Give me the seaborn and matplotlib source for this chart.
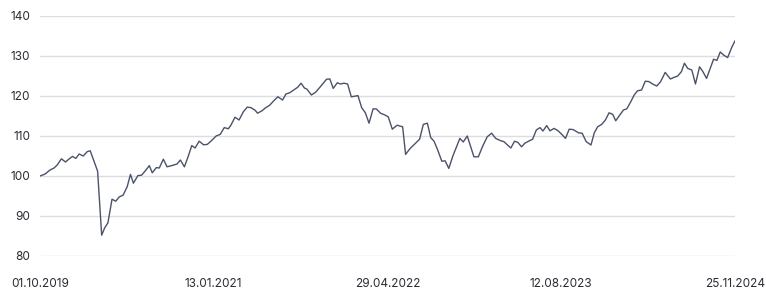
import matplotlib
matplotlib.use("Agg")
import matplotlib.pyplot as plt
import matplotlib.dates as mdates
import numpy as np
import pandas as pd
import seaborn as sns

start_date = "2019-10-01"
days_since_start = [
    0, 14, 27, 38, 47, 58, 69, 78, 88, 97, 106, 117, 128, 136, 156, 167, 175, 184,
    195, 205, 215, 225, 236, 245, 253, 265, 275, 287, 296, 304, 315, 323, 334, 344,
    357, 371, 380, 391, 401, 411, 420, 431, 443, 453, 464, 477, 488, 499, 510, 517,
    528, 539, 551, 561, 571, 583, 589, 601, 610, 622, 633, 644, 657, 666, 676, 687,
    698, 707, 716, 723, 735, 747, 759, 776, 785, 794, 805, 814, 823, 833, 843, 861,
    871, 881, 891, 902, 911, 922, 934, 943, 954, 967, 982, 990, 1001, 1017, 1028,
    1038, 1049, 1058, 1067, 1077, 1088, 1097, 1107, 1118, 1128, 1137, 1146, 1157,
    1175, 1187, 1198, 1211, 1223, 1234, 1248, 1256, 1266, 1275, 1285, 1294, 1304,
    1313, 1324, 1334, 1344, 1354, 1362, 1372, 1381, 1392, 1403, 1413, 1423, 1433,
    1444, 1458, 1468, 1479, 1492, 1501, 1510, 1521, 1531, 1541, 1551, 1559, 1570,
    1580, 1589, 1600, 1609, 1618, 1629, 1639, 1649, 1659, 1670, 1680, 1693, 1707,
    1718, 1727, 1737, 1745, 1754, 1765, 1775, 1786, 1795, 1805, 1824, 1833, 1842,
    1851, 1862, 1873, 1882,
]
index_values = [
    100, 100.5, 101.5, 102, 102.8, 104.3, 103.5, 104.2, 104.9, 104.4, 105.5, 105,
    106.1, 106.3, 101.2, 85.2, 87, 88.3, 94.2, 93.7, 94.8, 95.2, 97.3, 100.4, 98.2,
    100.1, 100.2, 101.5, 102.6, 100.8, 102.1, 102, 104.2, 102.3, 102.6, 103, 104,
    102.3, 104.8, 107.6, 107, 108.7, 107.8, 107.9, 108.8, 110, 110.4, 112.1, 111.8,
    112.7, 114.7, 114, 116.1, 117.2, 117.1, 116.4, 115.7, 116.3, 117, 117.7, 118.8,
    119.8, 119, 120.5, 120.8, 121.5, 122.2, 123.2, 122, 121.7, 120.25, 121, 122.3,
    124.2, 124.25, 121.9, 123.3, 123, 123.2, 123, 119.8, 120.1, 117.1, 115.8, 113.2,
    116.8, 116.75, 115.7, 115.25, 114.8, 111.7, 112.7, 112.3, 105.4, 106.75, 108.2,
    109.2, 112.9, 113.2, 109.6, 108.7, 106.5, 103.7, 103.8, 101.9, 105, 107.3, 109.4,
    108.5, 110, 104.8, 104.8, 107.3, 109.8, 110.7, 109.4, 108.8, 108.6, 107.75, 107,
    108.7, 108.4, 107.3, 108.2, 108.75, 109.2, 111.5, 112.1, 111.25, 112.6, 111.3,
    111.9, 111.3, 110.4, 109.4, 111.7, 111.6, 110.8, 110.7, 108.6, 107.75, 110.8,
    112.3, 112.9, 114, 115.8, 115.4, 113.8, 115.25, 116.5, 116.8, 118.6, 120.25,
    121.3, 121.5, 123.7, 123.6, 123, 122.5, 123.5, 125.9, 124.25, 124.7, 125, 126.1,
    128.2, 126.9, 126.5, 123, 127.3, 126.1, 124.4, 129.2, 128.9, 131, 130.25, 129.6,
    132.1, 133.8,
]
x_tick_labels = ["01.10.2019", "13.01.2021", "29.04.2022", "12.08.2023", "25.11.2024"]
y_ticks = [80, 90, 100, 110, 120, 130, 140]

dates = pd.to_datetime(start_date) + pd.to_timedelta(days_since_start, unit="D")
df = pd.DataFrame({"date": dates, "value": index_values})

sns.set_style("white")
plt.rcParams["font.family"] = ["Inter", "DejaVu Sans"]

fig = plt.figure(figsize=(7.66, 2.89), dpi=100)
ax = fig.add_axes([40 / 766, 1 - 256 / 289, (735 - 40) / 766, 240 / 289])

sns.lineplot(data=df, x="date", y="value", ax=ax, color="#4b5269", linewidth=1.0)

tick_dates = pd.to_datetime(x_tick_labels, format="%d.%m.%Y")
ax.set_xlim(dates[0], dates[-1])
ax.set_ylim(80, 140)
ax.set_xticks(tick_dates)
ax.set_xticklabels(x_tick_labels)
ax.set_yticks(y_ticks)
ax.set_yticklabels([str(v) for v in y_ticks])
ax.grid(axis="y", color="#dcdce3", linewidth=1.0)
ax.grid(axis="x", visible=False)
ax.set_axisbelow(True)
for s in ax.spines.values():
    s.set_visible(False)
ax.tick_params(axis="y", length=0, pad=7, labelsize=8.5, labelcolor="#2b2b33")
ax.tick_params(axis="x", length=0, pad=16, labelsize=8.5, labelcolor="#2b2b33")
ax.set_xlabel("")
ax.set_ylabel("")

fig.savefig("out.png", dpi=100)
